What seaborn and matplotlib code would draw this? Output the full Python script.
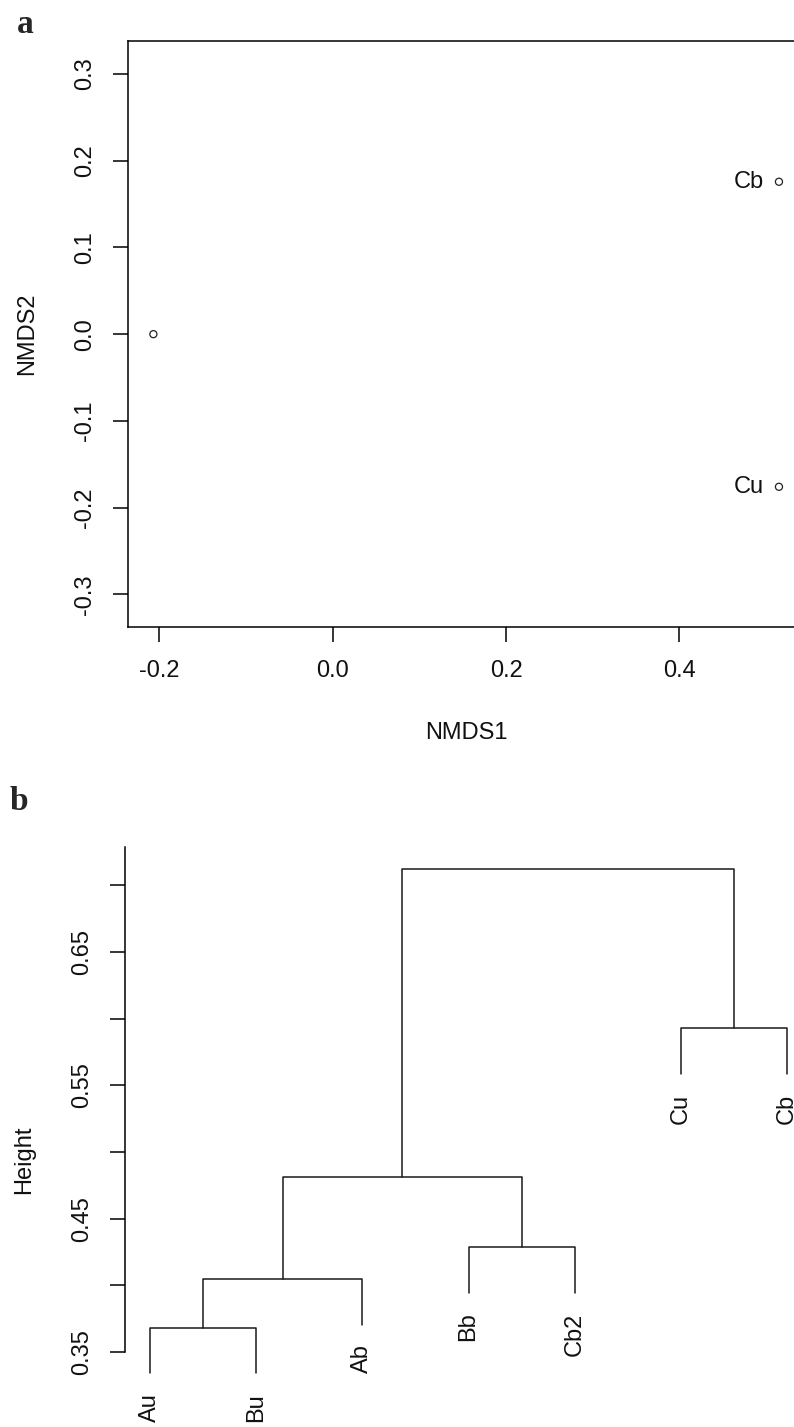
import matplotlib
matplotlib.use("Agg")
import matplotlib.pyplot as plt
import numpy as np
import pandas as pd
import seaborn as sns

# ---- NMDS ordination scores ----
nmds1 = [-0.207, 0.515, 0.515]
nmds2 = [0.000, 0.1757, -0.176]
point_labels = ["", "Cb", "Cu"]
x_ticks = [-0.2, 0.0, 0.2, 0.4]
x_tick_labels = ["-0.2", "0.0", "0.2", "0.4"]
y_ticks_a = [-0.3, -0.2, -0.1, 0.0, 0.1, 0.2, 0.3]
y_tick_labels_a = ["-0.3", "-0.2", "-0.1", "0.0", "0.1", "0.2", "0.3"]

# ---- hierarchical clustering (R-style merge matrix, leaves negative) ----
leaf_order = ["Au", "Bu", "Ab", "Bb", "Cb2", "Cu", "Cb"]
merge = [[-1, -2], [1, -3], [-4, -5], [2, 3], [-6, -7], [4, 5]]
merge_height = [0.3684, 0.405, 0.4288, 0.4811, 0.593, 0.7123]
y_ticks_b = [0.35, 0.40, 0.45, 0.50, 0.55, 0.60, 0.65, 0.70]
y_tick_labels_b = ["0.35", "", "0.45", "", "0.55", "", "0.65", ""]

sns.set_theme(style="ticks")
plt.rcParams["font.family"] = ["Liberation Sans", "DejaVu Sans"]
plt.rcParams["axes.unicode_minus"] = False

W, H = 794, 1427
fig = plt.figure(figsize=(W / 100, H / 100), dpi=100)
FS = 17
INK = "black"


def px_axes(left, top, right, bottom):
    return fig.add_axes([left / W, 1 - bottom / H, (right - left) / W, (bottom - top) / H])


def style_axis(ax):
    ax.tick_params(axis="both", length=10.8, width=1.1, color=INK,
                   labelsize=FS, labelcolor="#111111", direction="out")
    for s in ax.spines.values():
        s.set_linewidth(1.1)
        s.set_color(INK)


# ================= panel a: NMDS =================
ax_a = px_axes(128, 41, 804, 627.3)
df_pts = pd.DataFrame({"NMDS1": nmds1, "NMDS2": nmds2, "label": point_labels})
sns.scatterplot(data=df_pts, x="NMDS1", y="NMDS2", ax=ax_a, marker="o",
                s=26, facecolor="none", edgecolor="#222222", linewidth=0.9,
                legend=False, zorder=3)
for _, r in df_pts.iterrows():
    if r["label"]:
        ax_a.annotate(r["label"], (r["NMDS1"], r["NMDS2"]), xytext=(-11, 0),
                      textcoords="offset points", ha="right", va="center",
                      fontsize=FS, color="#111111")
ax_a.set_xlim(-0.2363, 0.5439)
ax_a.set_ylim(-0.338, 0.338)
ax_a.set_xticks(x_ticks)
ax_a.set_xticklabels(x_tick_labels)
ax_a.set_yticks(y_ticks_a)
ax_a.set_yticklabels(y_tick_labels_a, rotation=90, va="center")
style_axis(ax_a)
ax_a.tick_params(axis="x", pad=13)
ax_a.tick_params(axis="y", pad=12)
ax_a.set_xlabel("NMDS1", fontsize=FS, color="#111111")
ax_a.set_ylabel("NMDS2", fontsize=FS, color="#111111")
ax_a.xaxis.set_label_coords(0.5, (627.3 - 722) / 586.3)
ax_a.yaxis.set_label_coords((38 - 128) / 676, (627.3 - 334) / 586.3)
fig.text(17 / W, 1 - 33 / H, "a", fontsize=24, fontweight="bold",
         family=["Liberation Serif", "DejaVu Serif"], ha="left", va="baseline")

# ================= panel b: dendrogram =================
n = len(leaf_order)
hang = 0.1 * (max(merge_height) - min(merge_height))
node_x, node_y = {}, {}
rows, leaf_end = [], {}


def child_pos(c, h):
    if c < 0:
        i = -c
        leaf_end[i] = h - hang
        return float(i), h - hang
    return node_x[c], node_y[c]


for k, ((a, b), h) in enumerate(zip(merge, merge_height), start=1):
    xa, ya = child_pos(a, h)
    xb, yb = child_pos(b, h)
    for px, py in [(xa, ya), (xa, h), (xb, h), (xb, yb)]:
        rows.append({"seg": k, "x": px, "y": py})
    node_x[k] = (xa + xb) / 2
    node_y[k] = h

df_seg = pd.DataFrame(rows)
ax_b = px_axes(124.5, 846.8, 812.5, 1394.7)
sns.lineplot(data=df_seg, x="x", y="y", units="seg", estimator=None, sort=False,
             ax=ax_b, color="#1a1a1a", linewidth=1.1)
for i, name in enumerate(leaf_order, start=1):
    ax_b.annotate(name, (i, leaf_end[i]), xytext=(0, -14), textcoords="offset points",
                  rotation=90, ha="center", va="top", fontsize=FS, color="#111111",
                  annotation_clip=False)
ax_b.set_xlim(0.76, 7.24)
ax_b.set_ylim(0.318, 0.729)
ax_b.set_yticks(y_ticks_b)
ax_b.set_yticklabels(y_tick_labels_b, rotation=90, va="center")
ax_b.set_xticks([])
ax_b.set_xlabel("")
style_axis(ax_b)
ax_b.tick_params(axis="y", pad=12)
for s in ["top", "right", "bottom"]:
    ax_b.spines[s].set_visible(False)
ax_b.spines["left"].set_bounds(0.35, 0.729)
ax_b.set_ylabel("Height", fontsize=FS, color="#111111")
ax_b.yaxis.set_label_coords((35 - 124.5) / 688, (1394.7 - 1160) / 547.9)
fig.text(10 / W, 1 - 810 / H, "b", fontsize=24, fontweight="bold",
         family=["Liberation Serif", "DejaVu Serif"], ha="left", va="baseline")

fig.savefig("out.png", dpi=100)
